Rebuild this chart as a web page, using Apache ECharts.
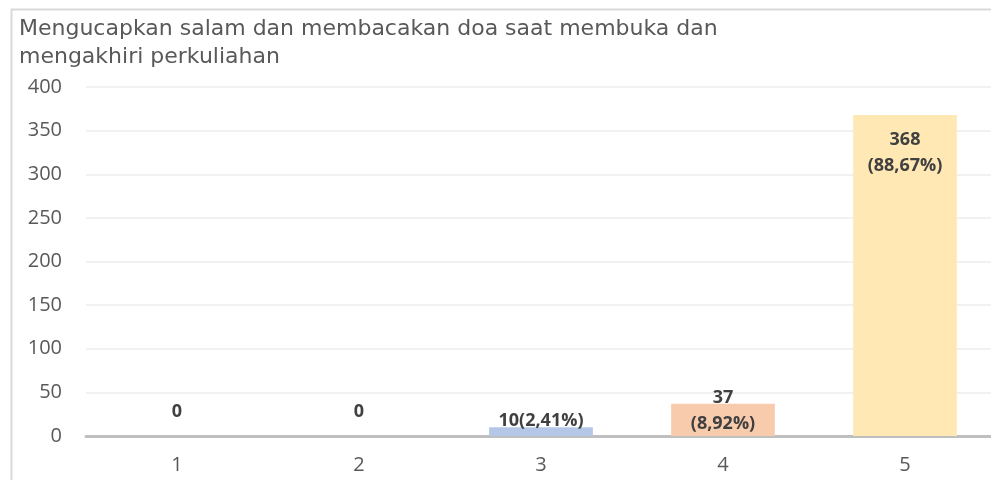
<!DOCTYPE html>
<html>
<head>
<meta charset="utf-8">
<script src="https://cdn.jsdelivr.net/npm/echarts@6/dist/echarts.min.js"></script>
<style>
  html, body { margin: 0; padding: 0; background: #fff; }
  #chart { width: 991px; height: 480px; }
</style>
</head>
<body>
<div id="chart"></div>
<script>
// Rating scale 1..5 and number of respondents per rating
const categories = ['1', '2', '3', '4', '5'];
const counts = [0, 0, 10, 37, 368];
const labelTexts = ['0', '0', '10(2,41%)', '37\n(8,92%)', '368\n(88,67%)'];
const barColors = ['#C5E0B4', '#D9D9D9', '#B4C7E7', '#F8CBAD', '#FFE8B3'];
const yTicks = [0, 50, 100, 150, 200, 250, 300, 350, 400];

const titleText = 'Mengucapkan salam dan membacakan doa saat membuka dan\nmengakhiri perkuliahan';

// Per-bar label placement
const labelPlacement = [
  { position: 'top', distance: 11 },
  { position: 'top', distance: 11 },
  { position: 'top', offset: [0, 7], distance: 0 },
  { position: 'top', offset: [0, 38], distance: 5 },
  { position: 'insideTop', distance: 12 }
];

const chart = echarts.init(document.getElementById('chart'), null, { renderer: 'canvas' });

const labelFont = {
  fontFamily: 'Open Sans',
  fontWeight: 'bold',
  fontSize: 18,
  color: '#404040',
  lineHeight: 26
};

chart.setOption({
  animation: false,
  backgroundColor: '#ffffff',
  graphic: [{
    type: 'rect',
    left: 9,
    top: 7,
    shape: { x: 0, y: 0, width: 1000, height: 500 },
    style: { fill: 'none', stroke: '#d9d9d9', lineWidth: 2 },
    silent: true
  }],
  title: {
    text: titleText,
    left: 14,
    top: 10,
    textStyle: {
      fontFamily: 'DejaVu Sans',
      fontWeight: 'normal',
      fontSize: 22,
      color: '#595959',
      lineHeight: 28
    }
  },
  grid: { left: 86, right: -5, top: 87, bottom: 44, containLabel: false, outerBoundsMode: 'none' },
  xAxis: {
    type: 'category',
    data: categories,
    axisLine: { show: true, lineStyle: { color: '#bfbfbf', width: 3 } },
    axisTick: { show: false },
    axisLabel: { color: '#595959', fontSize: 20, fontFamily: 'Open Sans', margin: 19 }
  },
  yAxis: {
    type: 'value',
    min: yTicks[0],
    max: yTicks[yTicks.length - 1],
    interval: yTicks[1] - yTicks[0],
    axisLine: { show: false },
    axisTick: { show: false },
    splitLine: { lineStyle: { color: '#ececec', width: 1.5 } },
    axisLabel: { color: '#595959', fontSize: 20, fontFamily: 'Open Sans', margin: 24 }
  },
  series: [{
    type: 'bar',
    barWidth: '57%',
    data: counts.map((v, i) => ({
      value: v,
      itemStyle: { color: barColors[i] },
      label: Object.assign({ show: true, formatter: labelTexts[i] }, labelFont, labelPlacement[i])
    }))
  }]
});
</script>
</body>
</html>
